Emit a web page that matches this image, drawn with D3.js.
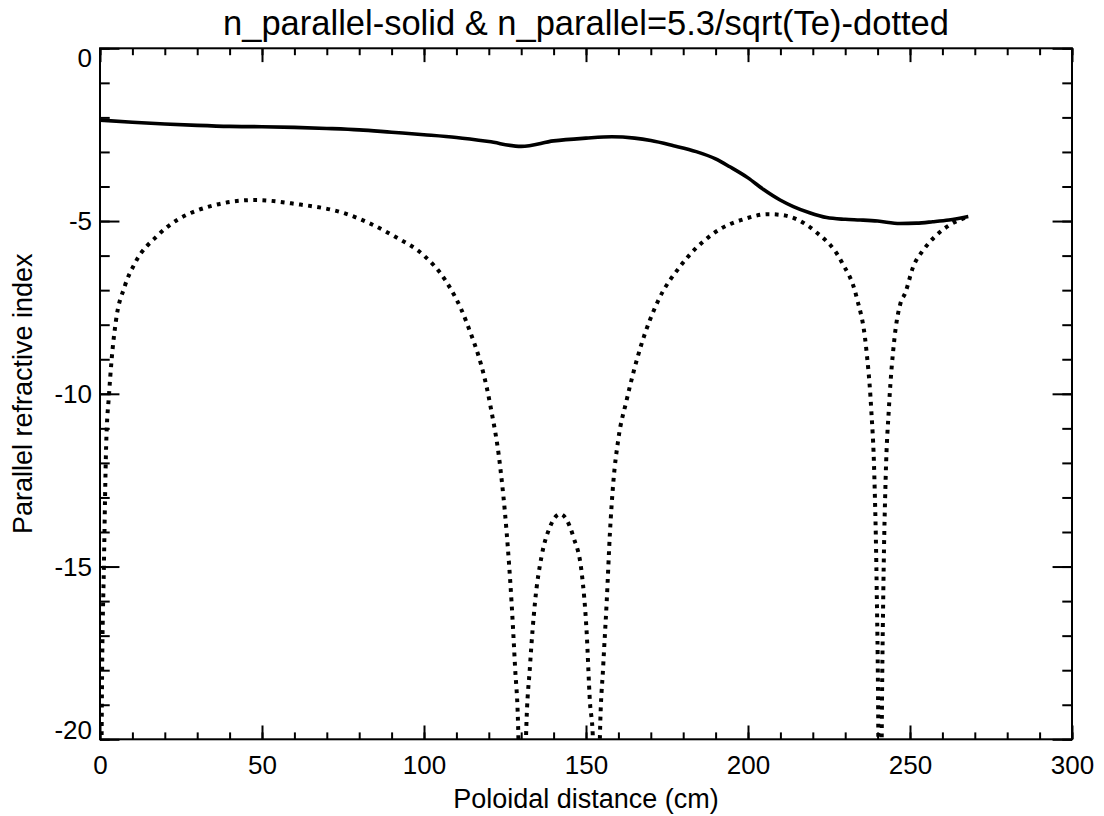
<!DOCTYPE html>
<meta charset="utf-8">
<style>
    body { margin: 0; background: #fff; }
    text { fill: #000; font-family: "Liberation Sans", Arial, sans-serif; }
    .axis path { display: none; }
    .axis line { stroke: #000; stroke-width: 2; }
    .frame { fill: none; stroke: #000; stroke-width: 2; }
    .solid { fill: none; stroke: #000; stroke-width: 3.6; }
    .dotted { fill: none; stroke: #000; stroke-width: 4; stroke-dasharray: 3.8,5.4; }
</style>
<body>
<script src="https://cdnjs.cloudflare.com/ajax/libs/d3/7.8.5/d3.min.js"></script>
<script>
    // n_parallel along the poloidal path (solid)
    var solidX = [0, 10, 20, 30, 40, 50, 60, 70, 80, 90, 100, 110, 120, 130, 140, 150, 158, 165, 170, 177, 184, 190, 194.4, 200, 204.7, 209.9, 214, 219, 224.3, 230, 234.6, 240, 246.9, 252, 257, 262, 268];
    var solidY = [-2.08, -2.14, -2.19, -2.23, -2.26, -2.27, -2.29, -2.32, -2.36, -2.43, -2.5, -2.58, -2.7, -2.84, -2.68, -2.6, -2.56, -2.6, -2.67, -2.82, -2.99, -3.2, -3.43, -3.75, -4.08, -4.39, -4.58, -4.76, -4.9, -4.95, -4.97, -5.0, -5.07, -5.06, -5.02, -4.97, -4.87];
    // n_parallel = 5.3/sqrt(Te) (dotted), values below -20 are clipped
    var dotX = [0, 0.6, 1.2, 1.9, 2.8, 3.6, 4.9, 7.6, 10.9, 18, 29.8, 47.8, 60, 75.6, 91, 100, 106.5, 113, 120.4, 123.5, 125.5, 127, 128.1, 129.1, 130.2,
        131.5, 132.7, 134.3, 136.3, 138.9, 142, 146.1, 148.7, 150.2, 151.2, 152.1, 153.2,
        154.3, 155.3, 156.4, 157.4, 158.4, 160, 162.5, 167, 172.3, 179, 189.3, 199.6, 206, 210, 220.5, 229, 233.5, 236.5, 238, 239, 239.7, 240.2, 240.7,
        241.3, 241.8, 242.5, 243.5, 245.2, 247, 248.5, 251, 254.1, 257.7, 262.3, 267.5];
    var dotY = [-30, -18.6, -15.0, -11.5, -10.0, -9.0, -7.9, -6.9, -6.2, -5.4, -4.7, -4.39, -4.5, -4.78, -5.45, -6.0, -6.7, -7.9, -10.3, -12.1, -14.0, -16.0, -17.9, -19.8, -30,
        -19.9, -17.9, -16.0, -14.7, -13.85, -13.48, -14.14, -15.2, -16.9, -18.9, -19.9, -30,
        -19.9, -17.9, -16.0, -14.0, -12.6, -11.3, -10.2, -8.6, -7.3, -6.32, -5.36, -4.92, -4.8, -4.82, -5.28, -6.2, -7.2, -8.7, -10.4, -12.4, -15.5, -19.6, -30,
        -19.6, -15.5, -12.4, -10.4, -8.4, -7.4, -7.09, -6.32, -5.84, -5.45, -5.11, -4.89];
    var xTicks = [0, 50, 100, 150, 200, 250, 300];
    var yTicks = [0, -5, -10, -15, -20];

    var margin = {top: 48.3, right: 32, bottom: 76.7, left: 100},
        width = 1104 - margin.left - margin.right,
        height = 816 - margin.top - margin.bottom;

    var x = d3.scaleLinear().domain([0, 300]).range([0, width]);
    var y = d3.scaleLinear().domain([-20, 0]).range([height, 0]);
    var plain = function(d) { return String(d); };

    var svg = d3.select("body").append("svg")
        .attr("width", 1104)
        .attr("height", 816);
    svg.append("defs").append("clipPath")
        .attr("id", "plotClip")
        .append("rect")
        .attr("width", width)
        .attr("height", height);
    var g = svg.append("g")
        .attr("transform", "translate(" + margin.left + "," + margin.top + ")");

    var xMajor = 0.02 * height, yMajor = 0.02 * width;
    var xMinorVals = d3.range(0, 301, 10), yMinorVals = d3.range(-20, 1, 1);

    // bottom axis with labels
    g.append("g").attr("class", "axis")
        .attr("transform", "translate(0," + height + ")")
        .call(d3.axisBottom(x).tickValues(xTicks).tickSize(-xMajor).tickPadding(16).tickFormat(plain))
        .selectAll("text").style("font-size", "26px");
    g.append("g").attr("class", "axis")
        .attr("transform", "translate(0," + height + ")")
        .call(d3.axisBottom(x).tickValues(xMinorVals).tickSize(-xMajor / 2).tickFormat(""));
    g.append("g").attr("class", "axis")
        .call(d3.axisTop(x).tickValues(xTicks).tickSize(-xMajor).tickFormat(""));
    g.append("g").attr("class", "axis")
        .call(d3.axisTop(x).tickValues(xMinorVals).tickSize(-xMajor / 2).tickFormat(""));

    // left axis with labels, end labels kept inside the frame
    g.append("g").attr("class", "axis")
        .call(d3.axisLeft(y).tickValues(yTicks).tickSize(-yMajor).tickPadding(8).tickFormat(plain))
        .selectAll("text")
        .style("font-size", "26px")
        .attr("dy", function(d) { return d === 0 ? "0.7em" : d === -20 ? "-0.02em" : "0.34em"; });
    g.append("g").attr("class", "axis")
        .call(d3.axisLeft(y).tickValues(yMinorVals).tickSize(-yMajor / 2).tickFormat(""));
    g.append("g").attr("class", "axis")
        .attr("transform", "translate(" + width + ",0)")
        .call(d3.axisRight(y).tickValues(yTicks).tickSize(-yMajor).tickFormat(""));
    g.append("g").attr("class", "axis")
        .attr("transform", "translate(" + width + ",0)")
        .call(d3.axisRight(y).tickValues(yMinorVals).tickSize(-yMajor / 2).tickFormat(""));

    g.append("rect").attr("class", "frame")
        .attr("width", width)
        .attr("height", height);

    var line = d3.line()
        .x(function(d) { return x(d[0]); })
        .y(function(d) { return y(d[1]); })
        .curve(d3.curveMonotoneX);

    g.append("path").attr("class", "dotted")
        .attr("clip-path", "url(#plotClip)")
        .datum(d3.zip(dotX, dotY))
        .attr("d", line);
    g.append("path").attr("class", "solid")
        .attr("clip-path", "url(#plotClip)")
        .datum(d3.zip(solidX, solidY))
        .attr("d", line);

    svg.append("text")
        .attr("x", margin.left + width / 2)
        .attr("y", 35)
        .style("text-anchor", "middle")
        .style("font-size", "34.5px")
        .text("n_parallel-solid & n_parallel=5.3/sqrt(Te)-dotted");
    svg.append("text")
        .attr("x", margin.left + width / 2)
        .attr("y", 808)
        .style("text-anchor", "middle")
        .style("font-size", "27px")
        .text("Poloidal distance (cm)");
    svg.append("text")
        .attr("transform", "translate(32," + (margin.top + height / 2) + ") rotate(-90)")
        .style("text-anchor", "middle")
        .style("font-size", "27px")
        .text("Parallel refractive index");
</script>
